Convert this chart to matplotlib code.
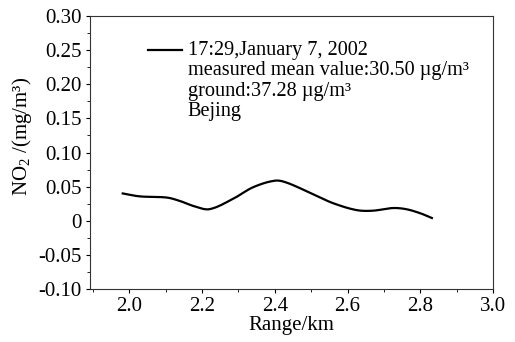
import matplotlib
matplotlib.use("Agg")
import matplotlib.pyplot as plt
from matplotlib.ticker import MultipleLocator, FixedLocator
import numpy as np

plt.rcParams['font.family'] = ['Liberation Serif', 'DejaVu Serif']
plt.rcParams['mathtext.fontset'] = 'custom'
plt.rcParams['mathtext.rm'] = 'Liberation Serif'
plt.rcParams['mathtext.it'] = 'Liberation Serif:italic'

range_km = [1.982, 2.029, 2.103, 2.139, 2.180, 2.221, 2.285, 2.340, 2.400, 2.432,
            2.505, 2.559, 2.624, 2.669, 2.724, 2.761, 2.800, 2.832]
no2 = [0.040, 0.0357, 0.034, 0.029, 0.021, 0.017, 0.032, 0.049, 0.0587, 0.056,
       0.039, 0.026, 0.0157, 0.0147, 0.0186, 0.017, 0.011, 0.004]

xticks = [2.0, 2.2, 2.4, 2.6, 2.8, 3.0]
yticks = [-0.10, -0.05, 0, 0.05, 0.10, 0.15, 0.20, 0.25, 0.30]
ytick_labels = ['-0.10', '-0.05', '0', '0.05', '0.10', '0.15', '0.20', '0.25', '0.30']

legend_label = '17:29,January 7, 2002'
info_lines = ['measured mean value:30.50 \u00b5g/m\u00b3',
              'ground:37.28 \u00b5g/m\u00b3',
              'Bejing']

FS = 15
TFS = 14.6

fig = plt.figure(figsize=(5.15, 3.42), dpi=100)
ax = fig.add_axes([90/515, 1-289/342, (493-90)/515, (289-16)/342])

xs = np.array(range_km)
ys = np.array(no2)
t = np.linspace(xs[0], xs[-1], 400)

def hermite(x, y, xq):
    n = len(x)
    m = np.zeros(n)
    for i in range(n):
        if i == 0:
            m[i] = (y[1]-y[0])/(x[1]-x[0])
        elif i == n-1:
            m[i] = (y[-1]-y[-2])/(x[-1]-x[-2])
        else:
            m[i] = (y[i+1]-y[i-1])/(x[i+1]-x[i-1])
    out = np.empty_like(xq)
    for j, q in enumerate(xq):
        k = min(np.searchsorted(x, q, side='right')-1, n-2)
        h = x[k+1]-x[k]
        s = (q-x[k])/h
        h00 = 2*s**3-3*s**2+1; h10 = s**3-2*s**2+s
        h01 = -2*s**3+3*s**2; h11 = s**3-s**2
        out[j] = h00*y[k]+h10*h*m[k]+h01*y[k+1]+h11*h*m[k+1]
    return out
ty = hermite(xs, ys, t)

ax.plot(t, ty, color='black', lw=1.6, label=legend_label)

ax.set_xlim(1.892, 3.0)
ax.set_ylim(-0.10, 0.30)
ax.xaxis.set_major_locator(FixedLocator(xticks))
ax.xaxis.set_minor_locator(MultipleLocator(0.1))
ax.yaxis.set_major_locator(FixedLocator(yticks))
ax.set_yticklabels(ytick_labels)
ax.yaxis.set_minor_locator(MultipleLocator(0.025))
ax.tick_params(which='major', direction='out', length=3, width=0.8, labelsize=FS, pad=3)
ax.tick_params(which='minor', direction='out', length=2, width=0.6)
for s in ax.spines.values():
    s.set_linewidth(0.8)
    s.set_color('#333333')

ax.set_xlabel('Range/km', fontsize=FS, labelpad=0)
ax.set_ylabel('NO$_2$ /(mg/m\u00b3)', fontsize=FS)
ax.yaxis.set_label_coords(-0.14, 0.56)

# legend handle + text block
ax.plot([0.144, 0.228], [0.874, 0.874], transform=ax.transAxes, color='black', lw=1.6)
ax.text(0.243, 0.857, legend_label, transform=ax.transAxes, fontsize=TFS, va='baseline', ha='left')
base = [0.784, 0.707, 0.634]
for b, s in zip(base, info_lines):
    ax.text(0.243, b, s, transform=ax.transAxes, fontsize=TFS, va='baseline', ha='left')

fig.savefig('out.png', dpi=100)
